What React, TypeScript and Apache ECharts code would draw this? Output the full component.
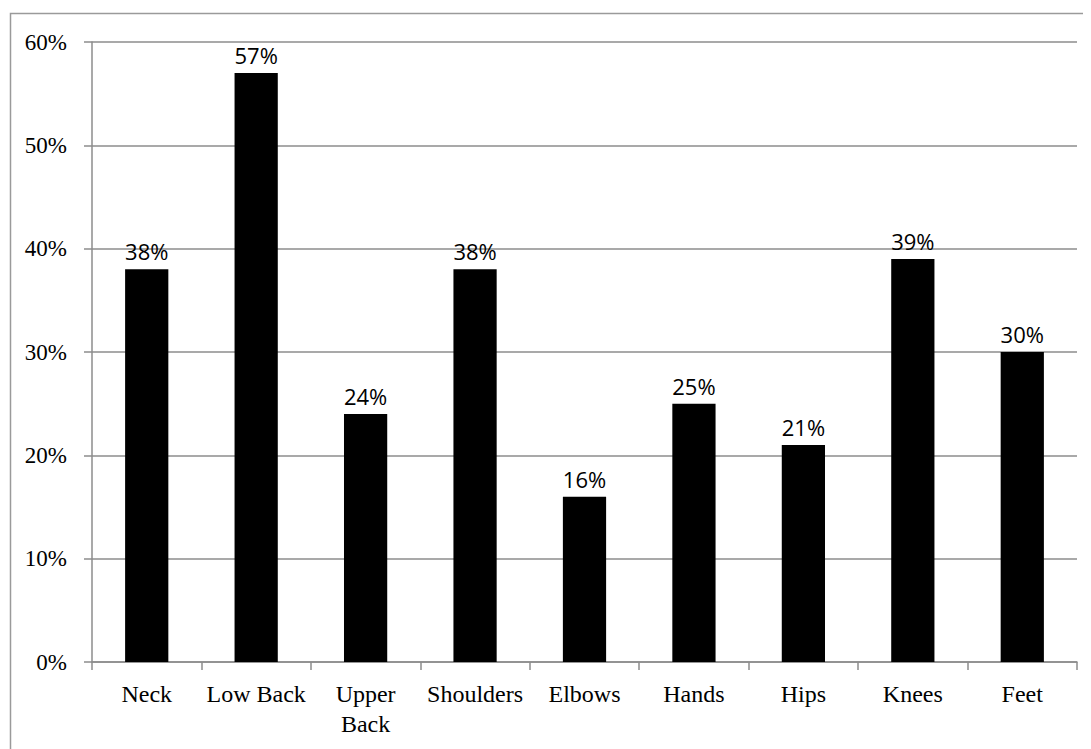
import React, { useEffect, useRef } from "react";
import * as echarts from "echarts";

const categories = ["Neck", "Low Back", "Upper Back", "Shoulders", "Elbows", "Hands", "Hips", "Knees", "Feet"];
const values = [38, 57, 24, 38, 16, 25, 21, 39, 30];
const yMax = 60;
const yInterval = 10;

export default function App() {
  const ref = useRef<HTMLDivElement>(null);
  useEffect(() => {
    if (!ref.current) return;
    const chart = echarts.init(ref.current, null, { renderer: "svg" });
    chart.setOption({
      animation: false,
      backgroundColor: "#ffffff",
      graphic: [
        {
          type: "rect",
          shape: { x: 2.5, y: 5.5, width: 1200, height: 1000 },
          style: { fill: "none", stroke: "#9a9a9a", lineWidth: 1.5 },
          silent: true,
        },
      ],
      grid: { left: 84, right: 14, top: 34, bottom: 87, containLabel: false },
      xAxis: {
        type: "category",
        data: categories,
        axisLine: { lineStyle: { color: "#8c8c8c", width: 1.5 } },
        axisTick: { show: true, length: 8, lineStyle: { color: "#8c8c8c", width: 1.5 } },
        axisLabel: {
          interval: 0,
          color: "#000",
          fontFamily: "Liberation Serif, serif",
          fontSize: 24,
          lineHeight: 30,
          margin: 17,
          formatter: (v: string) => (v === "Upper Back" ? "Upper\nBack" : v),
        },
      },
      yAxis: {
        type: "value",
        min: 0,
        max: yMax,
        interval: yInterval,
        axisLine: { show: true, lineStyle: { color: "#8c8c8c", width: 1.5 } },
        axisTick: { show: true, length: 8, lineStyle: { color: "#8c8c8c", width: 1.5 } },
        splitLine: { show: true, lineStyle: { color: "#8c8c8c", width: 1.5 } },
        axisLabel: {
          color: "#000",
          fontFamily: "Liberation Serif, serif",
          fontSize: 23,
          margin: 25,
          formatter: "{value}%",
        },
      },
      series: [
        {
          type: "bar",
          data: values,
          barWidth: "39.5%",
          itemStyle: { color: "#000000" },
          label: {
            show: true,
            position: "top",
            distance: 7,
            color: "#000",
            fontFamily: "Open Sans, sans-serif",
            fontSize: 22,
            formatter: "{c}%",
          },
        },
      ],
    });
    return () => chart.dispose();
  }, []);
  return <div ref={ref} style={{ width: 1083, height: 741 }} />;
}
